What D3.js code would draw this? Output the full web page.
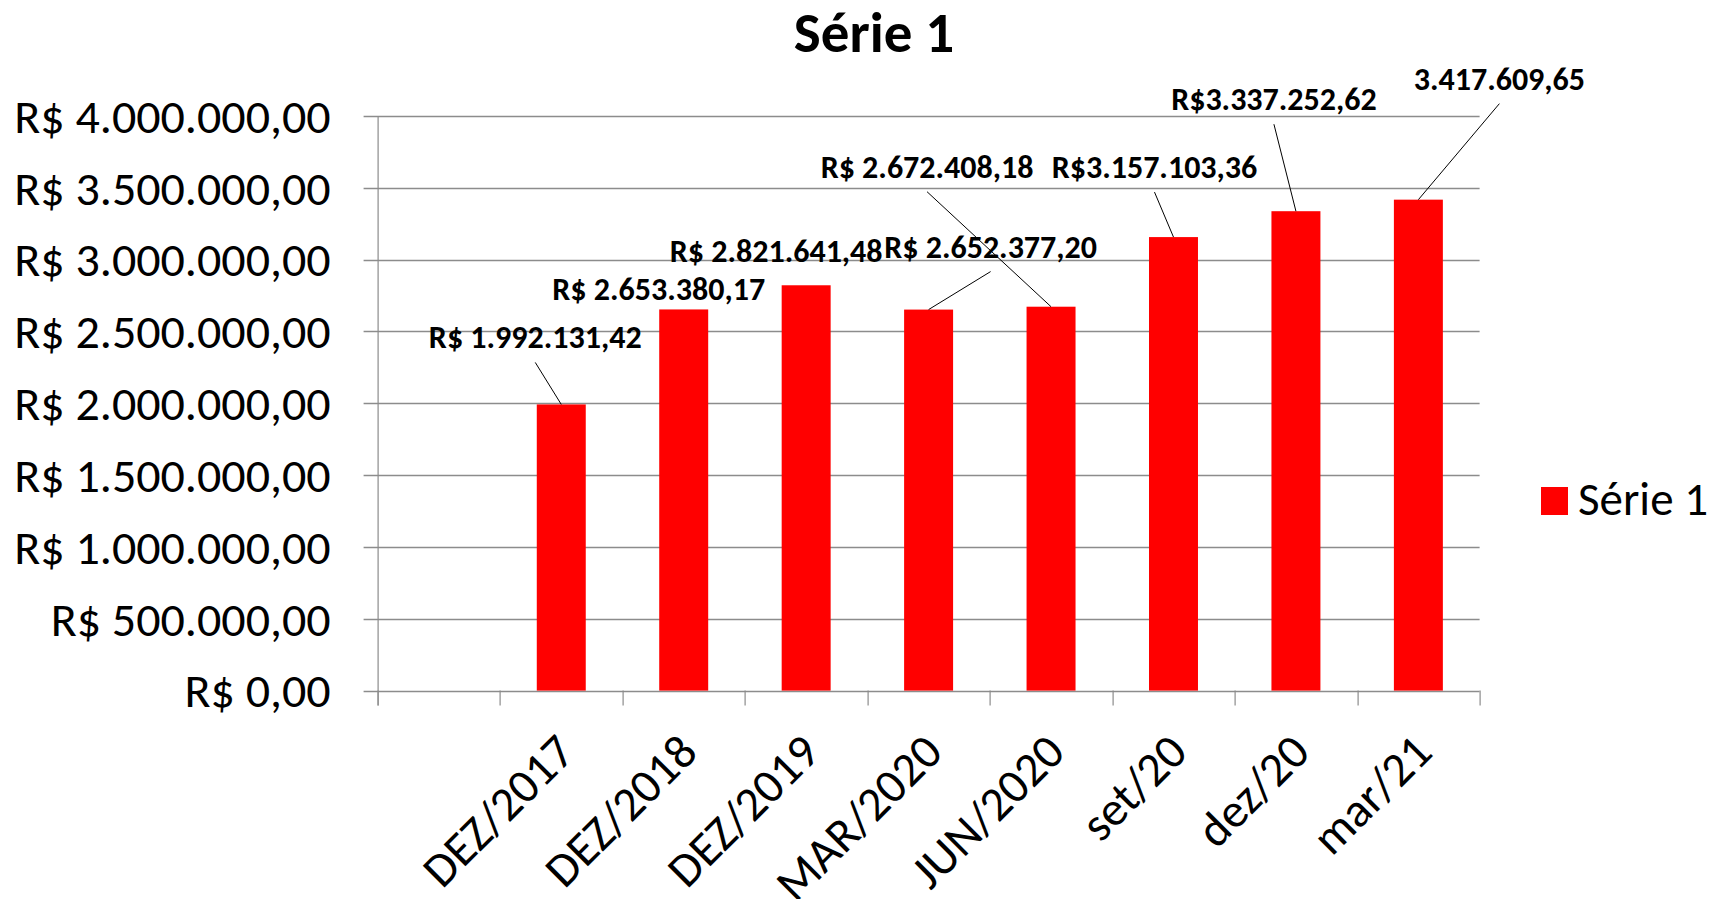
<!DOCTYPE html>
<html>
<head>
<meta charset="utf-8">
<script src="https://cdn.jsdelivr.net/npm/d3@7"></script>
<style>
  body { margin: 0; background: #fff; }
  text { font-family: "Carlito", "Calibri", "Lato", sans-serif; fill: #000; }
</style>
</head>
<body>
<div id="chart"></div>
<script>
// categories (first slot is an empty category, as in the original sheet)
var categories = ["", "DEZ/2017", "DEZ/2018", "DEZ/2019", "MAR/2020", "JUN/2020", "set/20", "dez/20", "mar/21"];
var values = [null, 1992131.42, 2653380.17, 2821641.48, 2652377.20, 2672408.18, 3157103.36, 3337252.62, 3417609.65];
var valueLabels = ["", "R$ 1.992.131,42", "R$ 2.653.380,17", "R$ 2.821.641,48", "R$ 2.652.377,20",
                   "R$ 2.672.408,18", "R$3.157.103,36", "R$3.337.252,62", "3.417.609,65"];
var yTicks = [0, 500000, 1000000, 1500000, 2000000, 2500000, 3000000, 3500000, 4000000];
var seriesName = "Série 1";

// where each data label was dragged to (offset from bar top centre) and whether it has a leader line
var labelOffsets = [null, [-26, -56, true], [-25, -9, false], [-30, -23, false], [62, -52, true],
                    [-124, -129, true], [-19, -59, true], [-22, -101, true], [81, -110, true]];

function init(){
    var W = 1716, H = 899;
    var margin = {left: 377.6, right: 1716 - 1479.6, top: 116, bottom: 899 - 690.6};
    var w = W - margin.left - margin.right;
    var h = H - margin.top - margin.bottom;
    var red = "#ff0000";
    var grid = "#8c8c8c";

    var svg = d3.select("#chart").append("svg")
        .attr("width", W)
        .attr("height", H);

    var xScale = d3.scaleBand()
        .domain(d3.range(categories.length))
        .range([0, w]);

    var yScale = d3.scaleLinear()
        .domain([0, 4000000])
        .range([h, 0]);

    var g = svg.append("g")
        .attr("transform", "translate(" + margin.left + "," + margin.top + ")");

    // number format pt-BR
    function brl(v){
        var s = d3.format(",.2f")(v);
        s = s.replace(/,/g, "#").replace(/\./g, ",").replace(/#/g, ".");
        return "R$ " + s;
    }

    // horizontal gridlines + left tick marks
    g.selectAll(".grid")
        .data(yTicks)
        .enter()
        .append("line")
        .attr("x1", -14)
        .attr("x2", w)
        .attr("y1", function(d){ return Math.round(yScale(d)) + 0.5; })
        .attr("y2", function(d){ return Math.round(yScale(d)) + 0.5; })
        .attr("stroke", grid)
        .attr("stroke-width", 1.5);

    // y axis line
    g.append("line")
        .attr("x1", 0.5).attr("x2", 0.5)
        .attr("y1", 0).attr("y2", h + 15)
        .attr("stroke", grid)
        .attr("stroke-width", 1.2);

    // x tick marks at band edges
    var edges = d3.range(categories.length + 1);
    g.selectAll(".xtick")
        .data(edges)
        .enter()
        .append("line")
        .attr("x1", function(d){ return Math.round(d * xScale.step()) + 0.5; })
        .attr("x2", function(d){ return Math.round(d * xScale.step()) + 0.5; })
        .attr("y1", h)
        .attr("y2", h + 15)
        .attr("stroke", grid)
        .attr("stroke-width", 1.2);

    // y labels
    g.selectAll(".ylab")
        .data(yTicks)
        .enter()
        .append("text")
        .attr("x", -47)
        .attr("y", function(d){ return yScale(d); })
        .attr("dy", "0.35em")
        .attr("text-anchor", "end")
        .attr("font-size", "48px")
        .text(brl);

    // x labels, rotated
    g.selectAll(".xlab")
        .data(categories)
        .enter()
        .append("text")
        .attr("text-anchor", "end")
        .attr("font-size", "48px")
        .attr("transform", function(d, i){
            var x = xScale(i) + xScale.bandwidth() / 2 + 16;
            return "translate(" + x + "," + (h + 64) + ") rotate(-45)";
        })
        .text(function(d){ return d; });

    // bars: gap width 150%
    var barW = xScale.bandwidth() / 2.5;
    var barData = values.map(function(v, i){ return {v: v, i: i}; }).filter(function(d){ return d.v != null; });

    g.selectAll("rect")
        .data(barData)
        .enter()
        .append("rect")
        .attr("x", function(d){ return xScale(d.i) + (xScale.bandwidth() - barW) / 2; })
        .attr("y", function(d){ return yScale(d.v); })
        .attr("width", barW)
        .attr("height", function(d){ return h - yScale(d.v); })
        .attr("fill", red);

    // leader lines
    g.selectAll(".leader")
        .data(barData.filter(function(d){ return labelOffsets[d.i][2]; }))
        .enter()
        .append("line")
        .attr("x1", function(d){ return xScale(d.i) + xScale.bandwidth() / 2 + labelOffsets[d.i][0]; })
        .attr("y1", function(d){ return yScale(d.v) + labelOffsets[d.i][1] + 14; })
        .attr("x2", function(d){ return xScale(d.i) + xScale.bandwidth() / 2; })
        .attr("y2", function(d){ return yScale(d.v); })
        .attr("stroke", "#000")
        .attr("stroke-width", 1);

    // data labels
    g.selectAll(".vlab")
        .data(barData)
        .enter()
        .append("text")
        .attr("x", function(d){ return xScale(d.i) + xScale.bandwidth() / 2 + labelOffsets[d.i][0]; })
        .attr("y", function(d){ return yScale(d.v) + labelOffsets[d.i][1]; })
        .attr("text-anchor", "middle")
        .attr("font-size", "32px")
        .attr("font-weight", "bold")
        .text(function(d){ return valueLabels[d.i]; });

    // title
    svg.append("text")
        .attr("x", 874)
        .attr("y", 52)
        .attr("text-anchor", "middle")
        .attr("font-size", "57px")
        .attr("font-weight", "bold")
        .text(seriesName);

    // legend
    var lg = svg.append("g").attr("transform", "translate(1541,487)");
    lg.append("rect")
        .attr("width", 27)
        .attr("height", 28)
        .attr("fill", red);
    lg.append("text")
        .attr("x", 37)
        .attr("y", 28)
        .attr("font-size", "47px")
        .text(seriesName);
}

window.onload = init;
</script>
</body>
</html>
